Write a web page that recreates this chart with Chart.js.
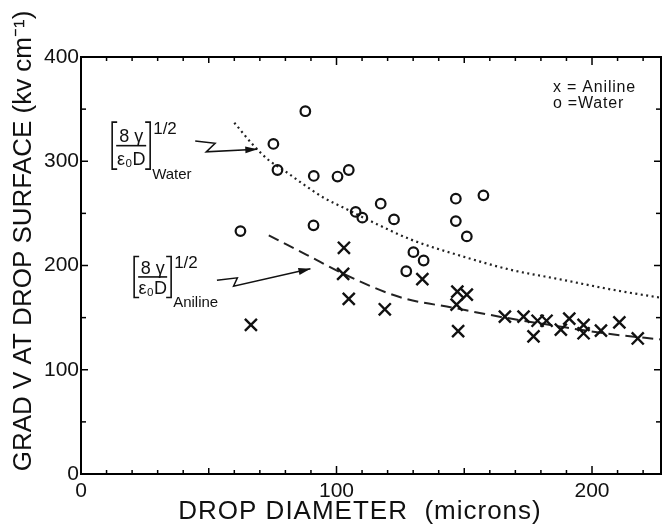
<!DOCTYPE html>
<html>
<head>
<meta charset="utf-8">
<script src="https://cdn.jsdelivr.net/npm/chart.js@4.4.1/dist/chart.umd.min.js"></script>
<style>
  html, body { margin: 0; padding: 0; background: #fff; overflow: hidden; }
  #wrap { width: 662px; height: 529px; position: relative; }
</style>
</head>
<body>
<div id="wrap"><canvas id="c"></canvas></div>
<script>
// ---- data ----
const waterX = [62.4, 87.8, 75.3, 76.9, 91.1, 91.0, 100.4, 104.8, 107.5, 110.1, 117.3, 122.5, 127.3, 130.1, 134.1, 146.7, 146.7, 151.0, 157.5];
const waterY = [233, 348, 316.6, 291.6, 285.9, 238.5, 285.3, 291.6, 251.4, 245.9, 259.3, 244.2, 194.5, 212.8, 204.8, 264.1, 242.6, 227.9, 267.3];

const anilineX = [66.5, 102.9, 102.6, 104.8, 118.9, 133.6, 147.3, 151.0, 147.0, 147.6, 165.9, 173.2, 177.1, 178.7, 182.2, 187.8, 191.1, 196.7, 196.7, 203.5, 210.7, 217.9];
const anilineY = [143, 217, 192, 168, 158, 187, 175, 172, 162.5, 137, 151, 151, 132, 147, 147, 138.5, 149, 143, 135, 137.5, 145.5, 130];

// theoretical curves
const waterCurveX = [60, 67.6, 74, 79, 87, 95, 104, 113, 129, 149, 168, 188, 207.5, 227];
const waterCurveY = [337, 315, 300, 292, 278, 265, 254, 243, 225, 209, 196, 186.5, 177, 169];
const anilineCurveX = [73.5, 88.5, 102.7, 125, 146, 164.3, 186, 206, 228];
const anilineCurveY = [229, 210, 192, 169.5, 159.3, 150.7, 142, 134.6, 128.8];

const xTickLabels = [0, 100, 200];
const yTickLabels = [0, 100, 200, 300, 400];

const xTitle = 'DROP DIAMETER  (microns)';
const yTitle = 'GRAD V AT DROP SURFACE (kv cm\u207B\u00B9)';
const legendLines = ['x = Aniline', 'o =Water'];

const pts = (xs, ys) => xs.map((v, i) => ({ x: v, y: ys[i] }));

const FONT = '"Liberation Sans", Arial, sans-serif';

function line(ctx, x1, y1, x2, y2) { ctx.beginPath(); ctx.moveTo(x1, y1); ctx.lineTo(x2, y2); ctx.stroke(); }

function drawFormula(ctx, lx, ty, w, h, sub) {
  ctx.save();
  ctx.strokeStyle = '#111'; ctx.fillStyle = '#111'; ctx.lineWidth = 1.6;
  ctx.beginPath(); ctx.moveTo(lx + 5, ty); ctx.lineTo(lx, ty); ctx.lineTo(lx, ty + h); ctx.lineTo(lx + 5, ty + h); ctx.stroke();
  ctx.beginPath(); ctx.moveTo(lx + w - 5, ty); ctx.lineTo(lx + w, ty); ctx.lineTo(lx + w, ty + h); ctx.lineTo(lx + w - 5, ty + h); ctx.stroke();
  line(ctx, lx + 4, ty + h * 0.5, lx + w - 4, ty + h * 0.5);
  ctx.textAlign = 'center'; ctx.textBaseline = 'alphabetic';
  ctx.font = '18px ' + FONT;
  ctx.fillText('8 \u03B3', lx + w / 2, ty + h * 0.43);
  ctx.fillText('\u03B5\u2080D', lx + w / 2, ty + h * 0.92);
  ctx.textAlign = 'left';
  ctx.font = '17px ' + FONT;
  ctx.fillText('1/2', lx + w + 3, ty + 12);
  ctx.font = '15px ' + FONT;
  ctx.fillText(sub, lx + w + 2, ty + h + 10);
  ctx.restore();
}

function drawArrow(ctx, p) {
  ctx.save();
  ctx.strokeStyle = '#111'; ctx.fillStyle = '#111'; ctx.lineWidth = 1.5;
  ctx.beginPath(); ctx.moveTo(p[0][0], p[0][1]);
  for (let i = 1; i < p.length; i++) ctx.lineTo(p[i][0], p[i][1]);
  ctx.stroke();
  const a = p[p.length - 2], b = p[p.length - 1];
  const ang = Math.atan2(b[1] - a[1], b[0] - a[0]);
  ctx.beginPath();
  ctx.moveTo(b[0], b[1]);
  ctx.lineTo(b[0] - 12 * Math.cos(ang) + 3.5 * Math.sin(ang), b[1] - 12 * Math.sin(ang) - 3.5 * Math.cos(ang));
  ctx.lineTo(b[0] - 12 * Math.cos(ang) - 3.5 * Math.sin(ang), b[1] - 12 * Math.sin(ang) + 3.5 * Math.cos(ang));
  ctx.closePath(); ctx.fill();
  ctx.restore();
}

const decor = {
  id: 'decor',
  afterDraw(chart) {
    const { ctx, chartArea: a, scales: { x, y } } = chart;
    const P = (dx, dy) => [x.getPixelForValue(dx), y.getPixelForValue(dy)];
    ctx.save();
    ctx.strokeStyle = '#000';
    ctx.lineWidth = 2;
    ctx.beginPath(); ctx.moveTo(a.left, a.top); ctx.lineTo(a.right, a.top); ctx.lineTo(a.right, a.bottom); ctx.stroke();
    ctx.lineWidth = 1.5;
    for (let v = 0; v <= x.max; v += 10) {
      const px = x.getPixelForValue(v);
      const L = v % 100 === 0 ? 8 : (v % 50 === 0 ? 6 : 4);
      line(ctx, px, a.bottom, px, a.bottom - L);
      line(ctx, px, a.top, px, a.top + L);
    }
    for (let v = 0; v <= y.max; v += 50) {
      const py = y.getPixelForValue(v);
      const L = v % 100 === 0 ? 7 : 5;
      line(ctx, a.left, py, a.left + L, py);
      line(ctx, a.right, py, a.right - L, py);
    }
    ctx.fillStyle = '#111';
    ctx.font = '26px ' + FONT;
    ctx.textAlign = 'center'; ctx.textBaseline = 'middle';
    ctx.letterSpacing = '1px';
    ctx.fillText(xTitle, 360, 512);
    ctx.letterSpacing = '0px';
    ctx.save();
    ctx.translate(24, 241); ctx.rotate(-Math.PI / 2);
    ctx.fillText(yTitle, 0, 0);
    ctx.restore();
    ctx.font = '16px ' + FONT; ctx.textAlign = 'left';
    ctx.letterSpacing = '0.8px';
    const l1 = P(184.7, 371), l2 = P(184.7, 355);
    ctx.fillText(legendLines[0], l1[0], l1[1]);
    ctx.fillText(legendLines[1], l2[0], l2[1]);
    ctx.letterSpacing = '0px';
    const fw = P(12.2, 337.5), fa = P(20.8, 208.7);
    drawFormula(ctx, fw[0], fw[1], 38, 47, 'Water');
    drawFormula(ctx, fa[0], fa[1], 37, 41, 'Aniline');
    drawArrow(ctx, [P(44.7, 319.5), P(52.5, 317.3), P(49, 309), P(69, 311.5)]);
    drawArrow(ctx, [P(53.2, 185.9), P(61.2, 188.2), P(59.7, 180.1), P(89.8, 196.8)]);
    ctx.restore();
  }
};

const keepHundreds = (s) => { s.ticks = s.ticks.filter(t => Math.abs(t.value % 100) < 1e-6); };

new Chart(document.getElementById('c'), {
  type: 'scatter',
  data: {
    datasets: [
      { label: 'Water', data: pts(waterX, waterY), pointStyle: 'circle', pointRadius: 4.8, borderColor: '#111', backgroundColor: 'rgba(0,0,0,0)', borderWidth: 2.2, showLine: false },
      { label: 'Aniline', data: pts(anilineX, anilineY), pointStyle: 'crossRot', pointRadius: 8.5, borderColor: '#111', borderWidth: 2.4, showLine: false },
      { label: 'Water theory', data: pts(waterCurveX, waterCurveY), showLine: true, pointRadius: 0, borderColor: '#222', borderWidth: 2.2, borderDash: [2, 3.5], cubicInterpolationMode: 'monotone', fill: false },
      { label: 'Aniline theory', data: pts(anilineCurveX, anilineCurveY), showLine: true, pointRadius: 0, borderColor: '#222', borderWidth: 2, borderDash: [11, 6], cubicInterpolationMode: 'monotone', fill: false }
    ]
  },
  options: {
    responsive: true,
    maintainAspectRatio: false,
    animation: false,
    layout: { autoPadding: false, padding: { top: 57, right: 1, left: 0, bottom: 0 } },
    plugins: { legend: { display: false }, tooltip: { enabled: false } },
    scales: {
      x: {
        type: 'linear', min: 0, max: 227,
        grid: { display: false, drawTicks: false },
        border: { display: true, color: '#000', width: 2 },
        ticks: { stepSize: 100, color: '#111', font: { family: FONT, size: 21 }, padding: 5, maxRotation: 0,
                 callback: v => xTickLabels.includes(v) ? String(v) : '' },
        afterBuildTicks: keepHundreds,
        afterFit: s => { s.height = 55; s.paddingLeft = 0; s.paddingRight = 0; }
      },
      y: {
        type: 'linear', min: 0, max: 400,
        grid: { display: false, drawTicks: false },
        border: { display: true, color: '#000', width: 2 },
        ticks: { stepSize: 100, color: '#111', font: { family: FONT, size: 21 }, padding: 2,
                 callback: v => yTickLabels.includes(v) ? String(v) : '' },
        afterBuildTicks: keepHundreds,
        afterFit: s => { s.width = 81; s.paddingTop = 0; s.paddingBottom = 0; }
      }
    }
  },
  plugins: [decor]
});
</script>
</body>
</html>
